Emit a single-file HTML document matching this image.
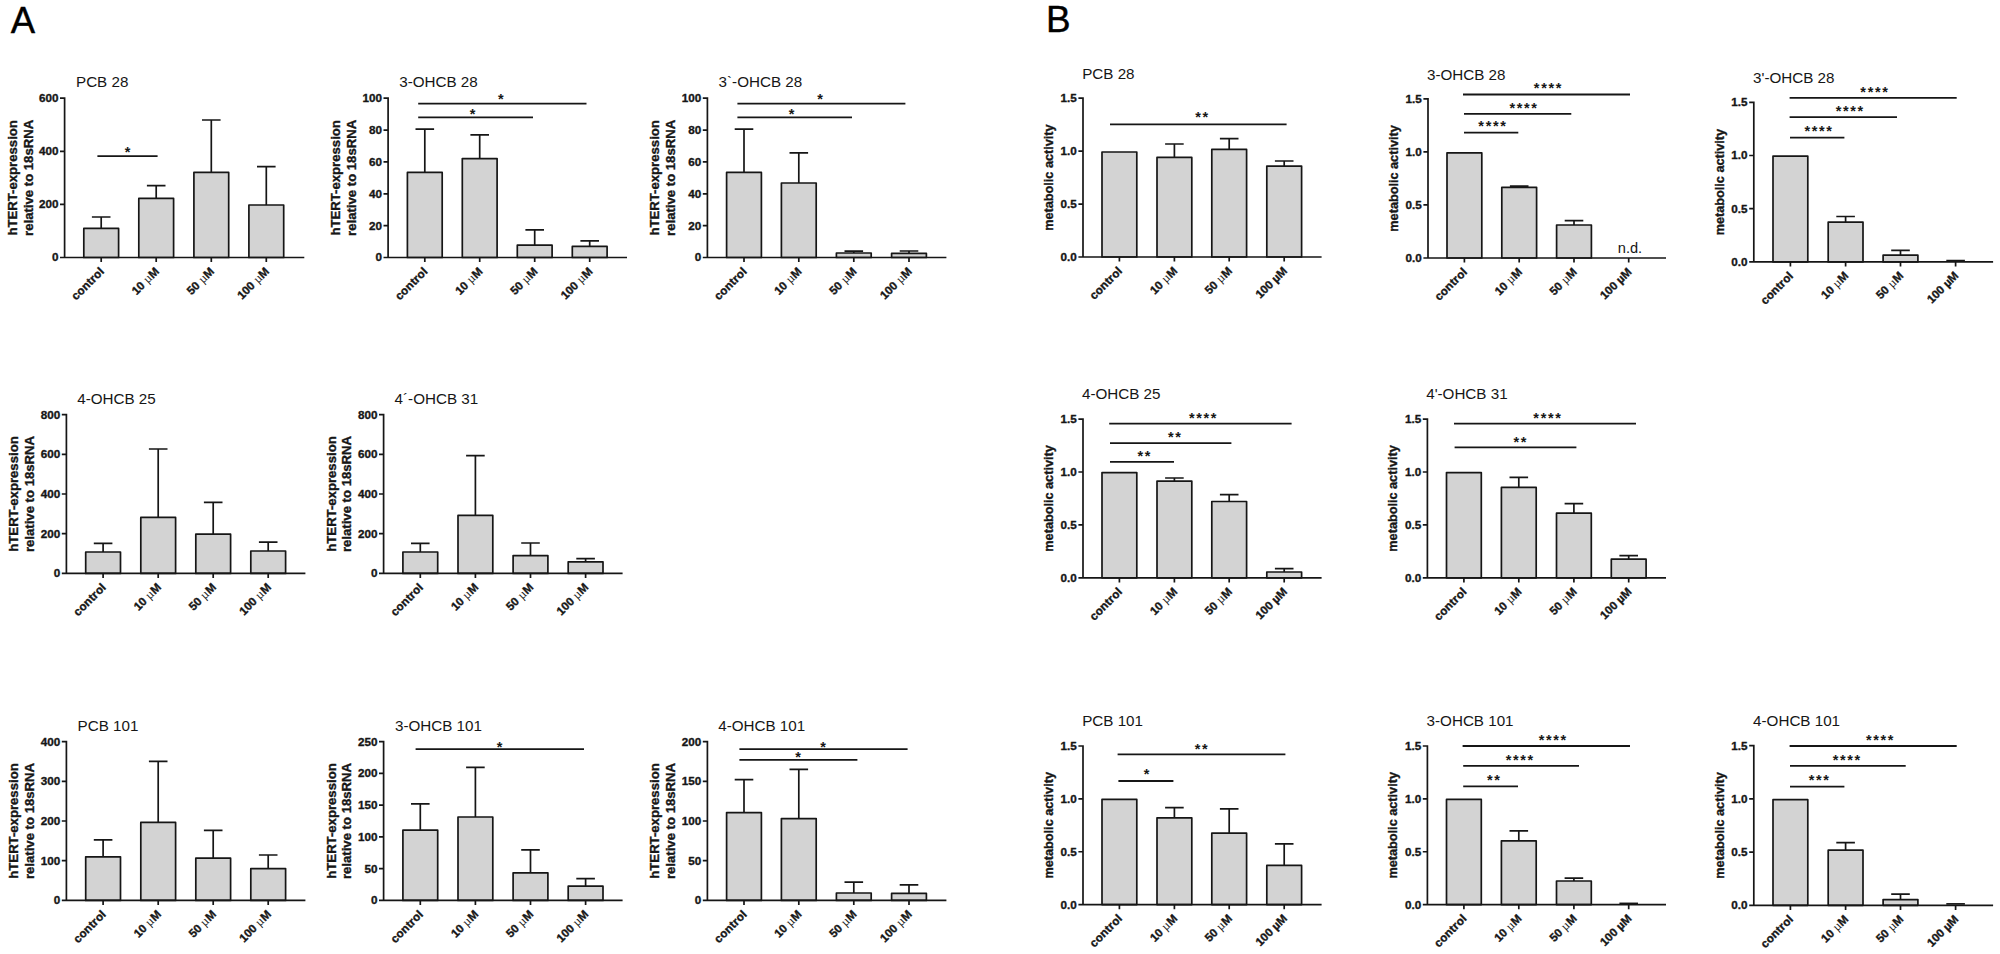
<!DOCTYPE html>
<html lang="en">
<head>
<meta charset="utf-8">
<title>hTERT expression and metabolic activity</title>
<style>
html,body{margin:0;padding:0;background:#fff}
body{width:2000px;height:954px;overflow:hidden}
svg{display:block;font-family:"Liberation Sans",Arial,sans-serif;fill:#161616}
.ln{fill:none;stroke:#161616;stroke-width:1.7}
.sg{fill:none;stroke:#161616;stroke-width:1.8}
.bar{fill:#d3d3d3;stroke:#161616;stroke-width:1.7;stroke-linejoin:round}
.tk{font-size:11.7px;font-weight:bold;text-anchor:end;stroke:#161616;stroke-width:.35px}
.xl{font-size:11.6px;font-weight:bold;text-anchor:end;stroke:#161616;stroke-width:.35px}
.mu{font-family:"Liberation Serif",serif;font-weight:normal;font-size:12.5px;stroke:none}
.yl{font-size:13.15px;font-weight:bold;text-anchor:middle;stroke:#161616;stroke-width:.35px}
.tt{font-size:15.2px}
.st{font-size:14.5px;font-weight:bold;letter-spacing:1.63px;text-anchor:middle}
.y1{font-size:12.7px}
.ct{letter-spacing:0.2px}
.nd{font-size:14.6px;text-anchor:middle}
.pl{font-size:36px;fill:#000;stroke:#000;stroke-width:.4px}
</style>
</head>
<body>
<svg width="2000" height="954" viewBox="0 0 2000 954">
<rect x="0" y="0" width="2000" height="954" fill="#fff"/>
<text x="10.8" y="32.7" class="pl" style="font-size:36.5px">A</text>
<text x="1046" y="31.6" class="pl" style="font-size:36.9px">B</text>
<g><path d="M101.2 228.4V217M91.9 217H110.5" class="ln"/>
<rect x="83.8" y="228.4" width="34.8" height="29.1" class="bar"/>
<path d="M156.2 198.4V185.6M146.9 185.6H165.5" class="ln"/>
<rect x="138.8" y="198.4" width="34.8" height="59.1" class="bar"/>
<path d="M211.3 172.4V120M202 120H220.6" class="ln"/>
<rect x="193.9" y="172.4" width="34.8" height="85.1" class="bar"/>
<path d="M266.3 205V166.6M257 166.6H275.6" class="ln"/>
<rect x="248.9" y="205" width="34.8" height="52.5" class="bar"/>
<path d="M64.6 97.35V257.5M60 257.5H304.3M60 98.2H64.6M60 151.3H64.6M60 204.4H64.6M101.2 257.5V262.1M156.2 257.5V262.1M211.3 257.5V262.1M266.3 257.5V262.1" class="ln"/>
<text x="58.4" y="102.1" class="tk">600</text>
<text x="58.4" y="155.2" class="tk">400</text>
<text x="58.4" y="208.3" class="tk">200</text>
<text x="58.4" y="261.4" class="tk">0</text>
<text transform="translate(104.8 272.1) rotate(-45)" class="xl ct">control</text>
<text transform="translate(159.8 272.1) rotate(-45)" class="xl">10 <tspan class="mu">µ</tspan>M</text>
<text transform="translate(214.9 272.1) rotate(-45)" class="xl">50 <tspan class="mu">µ</tspan>M</text>
<text transform="translate(269.9 272.1) rotate(-45)" class="xl">100 <tspan class="mu">µ</tspan>M</text>
<text x="76" y="87.4" class="tt">PCB 28</text>
<text transform="translate(17 177.85) rotate(-90)" class="yl">hTERT-expression</text>
<text transform="translate(32.9 177.85) rotate(-90)" class="yl">relative to 18sRNA</text>
<path d="M97.4 156.2H157.6" class="sg"/>
<text x="128.41" y="156.9" class="st">*</text></g>
<g><path d="M424.8 172.4V129.2M415.5 129.2H434.1" class="ln"/>
<rect x="407.4" y="172.4" width="34.8" height="85.1" class="bar"/>
<path d="M479.7 158.6V134.8M470.4 134.8H489" class="ln"/>
<rect x="462.3" y="158.6" width="34.8" height="98.9" class="bar"/>
<path d="M534.7 245.2V229.8M525.4 229.8H544" class="ln"/>
<rect x="517.3" y="245.2" width="34.8" height="12.3" class="bar"/>
<path d="M589.7 246.4V240.8M580.4 240.8H599" class="ln"/>
<rect x="572.3" y="246.4" width="34.8" height="11.1" class="bar"/>
<path d="M388.1 97.35V257.5M383.5 257.5H627M383.5 98.2H388.1M383.5 130.06H388.1M383.5 161.92H388.1M383.5 193.78H388.1M383.5 225.64H388.1M424.8 257.5V262.1M479.7 257.5V262.1M534.7 257.5V262.1M589.7 257.5V262.1" class="ln"/>
<text x="381.9" y="102.1" class="tk">100</text>
<text x="381.9" y="133.96" class="tk">80</text>
<text x="381.9" y="165.82" class="tk">60</text>
<text x="381.9" y="197.68" class="tk">40</text>
<text x="381.9" y="229.54" class="tk">20</text>
<text x="381.9" y="261.4" class="tk">0</text>
<text transform="translate(428.4 272.1) rotate(-45)" class="xl ct">control</text>
<text transform="translate(483.3 272.1) rotate(-45)" class="xl">10 <tspan class="mu">µ</tspan>M</text>
<text transform="translate(538.3 272.1) rotate(-45)" class="xl">50 <tspan class="mu">µ</tspan>M</text>
<text transform="translate(593.3 272.1) rotate(-45)" class="xl">100 <tspan class="mu">µ</tspan>M</text>
<text x="399.2" y="87.4" class="tt">3-OHCB 28</text>
<text transform="translate(340 177.85) rotate(-90)" class="yl">hTERT-expression</text>
<text transform="translate(355.9 177.85) rotate(-90)" class="yl">relative to 18sRNA</text>
<path d="M418.2 103.7H586.5" class="sg"/>
<text x="501.62" y="104.1" class="st">*</text>
<path d="M418.2 117.4H533" class="sg"/>
<text x="473.51" y="119.1" class="st">*</text></g>
<g><path d="M744 172.4V129.2M734.7 129.2H753.3" class="ln"/>
<rect x="726.6" y="172.4" width="34.8" height="85.1" class="bar"/>
<path d="M798.8 183V152.8M789.5 152.8H808.1" class="ln"/>
<rect x="781.4" y="183" width="34.8" height="74.5" class="bar"/>
<path d="M853.8 253V251.2M844.5 251.2H863.1" class="ln"/>
<rect x="836.4" y="253" width="34.8" height="4.5" class="bar"/>
<path d="M909 253.4V251M899.7 251H918.3" class="ln"/>
<rect x="891.6" y="253.4" width="34.8" height="4.1" class="bar"/>
<path d="M707.4 97.35V257.5M702.8 257.5H946.4M702.8 98.2H707.4M702.8 130.06H707.4M702.8 161.92H707.4M702.8 193.78H707.4M702.8 225.64H707.4M744 257.5V262.1M798.8 257.5V262.1M853.8 257.5V262.1M909 257.5V262.1" class="ln"/>
<text x="701.2" y="102.1" class="tk">100</text>
<text x="701.2" y="133.96" class="tk">80</text>
<text x="701.2" y="165.82" class="tk">60</text>
<text x="701.2" y="197.68" class="tk">40</text>
<text x="701.2" y="229.54" class="tk">20</text>
<text x="701.2" y="261.4" class="tk">0</text>
<text transform="translate(747.6 272.1) rotate(-45)" class="xl ct">control</text>
<text transform="translate(802.4 272.1) rotate(-45)" class="xl">10 <tspan class="mu">µ</tspan>M</text>
<text transform="translate(857.4 272.1) rotate(-45)" class="xl">50 <tspan class="mu">µ</tspan>M</text>
<text transform="translate(912.6 272.1) rotate(-45)" class="xl">100 <tspan class="mu">µ</tspan>M</text>
<text x="718.6" y="87.4" class="tt">3`-OHCB 28</text>
<text transform="translate(659.3 177.85) rotate(-90)" class="yl">hTERT-expression</text>
<text transform="translate(675.2 177.85) rotate(-90)" class="yl">relative to 18sRNA</text>
<path d="M737.4 103.7H905.4" class="sg"/>
<text x="820.82" y="104" class="st">*</text>
<path d="M737.4 117.4H852" class="sg"/>
<text x="792.42" y="119" class="st">*</text></g>
<g><path d="M103.1 552V543.4M93.8 543.4H112.4" class="ln"/>
<rect x="85.7" y="552" width="34.8" height="21.4" class="bar"/>
<path d="M158.2 517.4V449M148.9 449H167.5" class="ln"/>
<rect x="140.8" y="517.4" width="34.8" height="56" class="bar"/>
<path d="M213.2 534.2V502.4M203.9 502.4H222.5" class="ln"/>
<rect x="195.8" y="534.2" width="34.8" height="39.2" class="bar"/>
<path d="M268.2 551V542.2M258.9 542.2H277.5" class="ln"/>
<rect x="250.8" y="551" width="34.8" height="22.4" class="bar"/>
<path d="M66.4 413.75V573.4M61.8 573.4H305.4M61.8 414.6H66.4M61.8 454.3H66.4M61.8 494H66.4M61.8 533.7H66.4M103.1 573.4V578M158.2 573.4V578M213.2 573.4V578M268.2 573.4V578" class="ln"/>
<text x="60.2" y="418.5" class="tk">800</text>
<text x="60.2" y="458.2" class="tk">600</text>
<text x="60.2" y="497.9" class="tk">400</text>
<text x="60.2" y="537.6" class="tk">200</text>
<text x="60.2" y="577.3" class="tk">0</text>
<text transform="translate(106.7 588) rotate(-45)" class="xl ct">control</text>
<text transform="translate(161.8 588) rotate(-45)" class="xl">10 <tspan class="mu">µ</tspan>M</text>
<text transform="translate(216.8 588) rotate(-45)" class="xl">50 <tspan class="mu">µ</tspan>M</text>
<text transform="translate(271.8 588) rotate(-45)" class="xl">100 <tspan class="mu">µ</tspan>M</text>
<text x="77.2" y="403.8" class="tt">4-OHCB 25</text>
<text transform="translate(18.3 494) rotate(-90)" class="yl">hTERT-expression</text>
<text transform="translate(34.2 494) rotate(-90)" class="yl">relative to 18sRNA</text></g>
<g><path d="M420.3 552V543.4M411 543.4H429.6" class="ln"/>
<rect x="402.9" y="552" width="34.8" height="21.4" class="bar"/>
<path d="M475.4 515.4V455.6M466.1 455.6H484.7" class="ln"/>
<rect x="458" y="515.4" width="34.8" height="58" class="bar"/>
<path d="M530.5 555.6V543M521.2 543H539.8" class="ln"/>
<rect x="513.1" y="555.6" width="34.8" height="17.8" class="bar"/>
<path d="M585.6 561.8V558.6M576.3 558.6H594.9" class="ln"/>
<rect x="568.2" y="561.8" width="34.8" height="11.6" class="bar"/>
<path d="M383.6 413.75V573.4M379 573.4H622.6M379 414.6H383.6M379 454.3H383.6M379 494H383.6M379 533.7H383.6M420.3 573.4V578M475.4 573.4V578M530.5 573.4V578M585.6 573.4V578" class="ln"/>
<text x="377.4" y="418.5" class="tk">800</text>
<text x="377.4" y="458.2" class="tk">600</text>
<text x="377.4" y="497.9" class="tk">400</text>
<text x="377.4" y="537.6" class="tk">200</text>
<text x="377.4" y="577.3" class="tk">0</text>
<text transform="translate(423.9 588) rotate(-45)" class="xl ct">control</text>
<text transform="translate(479 588) rotate(-45)" class="xl">10 <tspan class="mu">µ</tspan>M</text>
<text transform="translate(534.1 588) rotate(-45)" class="xl">50 <tspan class="mu">µ</tspan>M</text>
<text transform="translate(589.2 588) rotate(-45)" class="xl">100 <tspan class="mu">µ</tspan>M</text>
<text x="394.6" y="403.8" class="tt">4´-OHCB 31</text>
<text transform="translate(335.5 494) rotate(-90)" class="yl">hTERT-expression</text>
<text transform="translate(351.4 494) rotate(-90)" class="yl">relative to 18sRNA</text></g>
<g><path d="M103.1 856.8V839.8M93.8 839.8H112.4" class="ln"/>
<rect x="85.7" y="856.8" width="34.8" height="43.6" class="bar"/>
<path d="M158.2 822.4V761.4M148.9 761.4H167.5" class="ln"/>
<rect x="140.8" y="822.4" width="34.8" height="78" class="bar"/>
<path d="M213.2 858.2V830.4M203.9 830.4H222.5" class="ln"/>
<rect x="195.8" y="858.2" width="34.8" height="42.2" class="bar"/>
<path d="M268.2 868.6V855M258.9 855H277.5" class="ln"/>
<rect x="250.8" y="868.6" width="34.8" height="31.8" class="bar"/>
<path d="M66.4 740.75V900.4M61.8 900.4H305.4M61.8 741.6H66.4M61.8 781.3H66.4M61.8 821H66.4M61.8 860.7H66.4M103.1 900.4V905M158.2 900.4V905M213.2 900.4V905M268.2 900.4V905" class="ln"/>
<text x="60.2" y="745.5" class="tk">400</text>
<text x="60.2" y="785.2" class="tk">300</text>
<text x="60.2" y="824.9" class="tk">200</text>
<text x="60.2" y="864.6" class="tk">100</text>
<text x="60.2" y="904.3" class="tk">0</text>
<text transform="translate(106.7 915) rotate(-45)" class="xl ct">control</text>
<text transform="translate(161.8 915) rotate(-45)" class="xl">10 <tspan class="mu">µ</tspan>M</text>
<text transform="translate(216.8 915) rotate(-45)" class="xl">50 <tspan class="mu">µ</tspan>M</text>
<text transform="translate(271.8 915) rotate(-45)" class="xl">100 <tspan class="mu">µ</tspan>M</text>
<text x="77.6" y="730.8" class="tt">PCB 101</text>
<text transform="translate(18.3 821) rotate(-90)" class="yl">hTERT-expression</text>
<text transform="translate(34.2 821) rotate(-90)" class="yl">relative to 18sRNA</text></g>
<g><path d="M420.3 830.2V803.8M411 803.8H429.6" class="ln"/>
<rect x="402.9" y="830.2" width="34.8" height="70.2" class="bar"/>
<path d="M475.4 817V767.4M466.1 767.4H484.7" class="ln"/>
<rect x="458" y="817" width="34.8" height="83.4" class="bar"/>
<path d="M530.5 872.8V849.8M521.2 849.8H539.8" class="ln"/>
<rect x="513.1" y="872.8" width="34.8" height="27.6" class="bar"/>
<path d="M585.6 886.2V878.6M576.3 878.6H594.9" class="ln"/>
<rect x="568.2" y="886.2" width="34.8" height="14.2" class="bar"/>
<path d="M383.6 740.75V900.4M379 900.4H622.6M379 741.6H383.6M379 773.36H383.6M379 805.12H383.6M379 836.88H383.6M379 868.64H383.6M420.3 900.4V905M475.4 900.4V905M530.5 900.4V905M585.6 900.4V905" class="ln"/>
<text x="377.4" y="745.5" class="tk">250</text>
<text x="377.4" y="777.26" class="tk">200</text>
<text x="377.4" y="809.02" class="tk">150</text>
<text x="377.4" y="840.78" class="tk">100</text>
<text x="377.4" y="872.54" class="tk">50</text>
<text x="377.4" y="904.3" class="tk">0</text>
<text transform="translate(423.9 915) rotate(-45)" class="xl ct">control</text>
<text transform="translate(479 915) rotate(-45)" class="xl">10 <tspan class="mu">µ</tspan>M</text>
<text transform="translate(534.1 915) rotate(-45)" class="xl">50 <tspan class="mu">µ</tspan>M</text>
<text transform="translate(589.2 915) rotate(-45)" class="xl">100 <tspan class="mu">µ</tspan>M</text>
<text x="395" y="730.8" class="tt">3-OHCB 101</text>
<text transform="translate(335.5 821) rotate(-90)" class="yl">hTERT-expression</text>
<text transform="translate(351.4 821) rotate(-90)" class="yl">relative to 18sRNA</text>
<path d="M415.6 749.2H584" class="sg"/>
<text x="500.42" y="751.9" class="st">*</text></g>
<g><path d="M744 812.6V779.6M734.7 779.6H753.3" class="ln"/>
<rect x="726.6" y="812.6" width="34.8" height="87.8" class="bar"/>
<path d="M798.8 818.6V769.4M789.5 769.4H808.1" class="ln"/>
<rect x="781.4" y="818.6" width="34.8" height="81.8" class="bar"/>
<path d="M853.8 893V882.2M844.5 882.2H863.1" class="ln"/>
<rect x="836.4" y="893" width="34.8" height="7.4" class="bar"/>
<path d="M909 893.4V884.8M899.7 884.8H918.3" class="ln"/>
<rect x="891.6" y="893.4" width="34.8" height="7" class="bar"/>
<path d="M707.4 740.75V900.4M702.8 900.4H946.4M702.8 741.6H707.4M702.8 781.3H707.4M702.8 821H707.4M702.8 860.7H707.4M744 900.4V905M798.8 900.4V905M853.8 900.4V905M909 900.4V905" class="ln"/>
<text x="701.2" y="745.5" class="tk">200</text>
<text x="701.2" y="785.2" class="tk">150</text>
<text x="701.2" y="824.9" class="tk">100</text>
<text x="701.2" y="864.6" class="tk">50</text>
<text x="701.2" y="904.3" class="tk">0</text>
<text transform="translate(747.6 915) rotate(-45)" class="xl ct">control</text>
<text transform="translate(802.4 915) rotate(-45)" class="xl">10 <tspan class="mu">µ</tspan>M</text>
<text transform="translate(857.4 915) rotate(-45)" class="xl">50 <tspan class="mu">µ</tspan>M</text>
<text transform="translate(912.6 915) rotate(-45)" class="xl">100 <tspan class="mu">µ</tspan>M</text>
<text x="718.2" y="730.8" class="tt">4-OHCB 101</text>
<text transform="translate(659.3 821) rotate(-90)" class="yl">hTERT-expression</text>
<text transform="translate(675.2 821) rotate(-90)" class="yl">relative to 18sRNA</text>
<path d="M739.4 749.2H907.6" class="sg"/>
<text x="823.82" y="751.9" class="st">*</text>
<path d="M739.4 759.8H857.4" class="sg"/>
<text x="798.82" y="762.1" class="st">*</text></g>
<g><rect x="1102" y="152" width="34.8" height="105" class="bar"/>
<path d="M1174.4 157.4V144M1165.1 144H1183.7" class="ln"/>
<rect x="1157" y="157.4" width="34.8" height="99.6" class="bar"/>
<path d="M1229.2 149.4V138.7M1219.9 138.7H1238.5" class="ln"/>
<rect x="1211.8" y="149.4" width="34.8" height="107.6" class="bar"/>
<path d="M1284.2 166.1V161M1274.9 161H1293.5" class="ln"/>
<rect x="1266.8" y="166.1" width="34.8" height="90.9" class="bar"/>
<path d="M1083 97.35V257M1078.4 257H1321.6M1078.4 98.2H1083M1078.4 151.13H1083M1078.4 204.07H1083M1119.4 257V261.6M1174.4 257V261.6M1229.2 257V261.6M1284.2 257V261.6" class="ln"/>
<text x="1076.8" y="102.1" class="tk">1.5</text>
<text x="1076.8" y="155.03" class="tk">1.0</text>
<text x="1076.8" y="207.97" class="tk">0.5</text>
<text x="1076.8" y="260.9" class="tk">0.0</text>
<text transform="translate(1123 271.6) rotate(-45)" class="xl ct">control</text>
<text transform="translate(1178 271.6) rotate(-45)" class="xl">10 <tspan class="mu">µ</tspan>M</text>
<text transform="translate(1232.8 271.6) rotate(-45)" class="xl">50 <tspan class="mu">µ</tspan>M</text>
<text transform="translate(1287.8 271.6) rotate(-45)" class="xl">100 µM</text>
<text x="1082.2" y="78.8" class="tt">PCB 28</text>
<text transform="translate(1052.8 177.6) rotate(-90)" class="yl y1">metabolic activity</text>
<path d="M1110 124.4H1286.6" class="sg"/>
<text x="1202.41" y="122.3" class="st">**</text></g>
<g><rect x="1447" y="152.8" width="34.8" height="105.2" class="bar"/>
<path d="M1519.2 187.3V186.1M1509.9 186.1H1528.5" class="ln"/>
<rect x="1501.8" y="187.3" width="34.8" height="70.7" class="bar"/>
<path d="M1574 225V220.7M1564.7 220.7H1583.3" class="ln"/>
<rect x="1556.6" y="225" width="34.8" height="33" class="bar"/>
<path d="M1428 98.05V258M1423.4 258H1666M1423.4 98.9H1428M1423.4 151.93H1428M1423.4 204.97H1428M1464.4 258V262.6M1519.2 258V262.6M1574 258V262.6M1628.7 258V262.6" class="ln"/>
<text x="1421.8" y="102.8" class="tk">1.5</text>
<text x="1421.8" y="155.83" class="tk">1.0</text>
<text x="1421.8" y="208.87" class="tk">0.5</text>
<text x="1421.8" y="261.9" class="tk">0.0</text>
<text transform="translate(1468 272.6) rotate(-45)" class="xl ct">control</text>
<text transform="translate(1522.8 272.6) rotate(-45)" class="xl">10 <tspan class="mu">µ</tspan>M</text>
<text transform="translate(1577.6 272.6) rotate(-45)" class="xl">50 <tspan class="mu">µ</tspan>M</text>
<text transform="translate(1632.3 272.6) rotate(-45)" class="xl">100 µM</text>
<text x="1427" y="79.8" class="tt">3-OHCB 28</text>
<text transform="translate(1397.8 178.45) rotate(-90)" class="yl y1">metabolic activity</text>
<path d="M1463 94.5H1630" class="sg"/>
<text x="1548.41" y="93.3" class="st">****</text>
<path d="M1464 113.8H1571.3" class="sg"/>
<text x="1524.02" y="112.5" class="st">****</text>
<path d="M1464 132.6H1518.3" class="sg"/>
<text x="1492.91" y="131.3" class="st">****</text>
<text x="1630" y="253.3" class="nd">n.d.</text></g>
<g><rect x="1773" y="156.1" width="34.8" height="105.8" class="bar"/>
<path d="M1845.6 222.1V216.5M1836.3 216.5H1854.9" class="ln"/>
<rect x="1828.2" y="222.1" width="34.8" height="39.8" class="bar"/>
<path d="M1900.5 255.2V250.4M1891.2 250.4H1909.8" class="ln"/>
<rect x="1883.1" y="255.2" width="34.8" height="6.7" class="bar"/>
<path d="M1946.3 260.6H1964.9" class="ln"/>
<path d="M1753.8 101.45V261.9M1749.2 261.9H1993.1M1749.2 102.3H1753.8M1749.2 155.5H1753.8M1749.2 208.7H1753.8M1790.4 261.9V266.5M1845.6 261.9V266.5M1900.5 261.9V266.5M1955.6 261.9V266.5" class="ln"/>
<text x="1747.6" y="106.2" class="tk">1.5</text>
<text x="1747.6" y="159.4" class="tk">1.0</text>
<text x="1747.6" y="212.6" class="tk">0.5</text>
<text x="1747.6" y="265.8" class="tk">0.0</text>
<text transform="translate(1794 276.5) rotate(-45)" class="xl ct">control</text>
<text transform="translate(1849.2 276.5) rotate(-45)" class="xl">10 <tspan class="mu">µ</tspan>M</text>
<text transform="translate(1904.1 276.5) rotate(-45)" class="xl">50 <tspan class="mu">µ</tspan>M</text>
<text transform="translate(1959.2 276.5) rotate(-45)" class="xl">100 µM</text>
<text x="1753.1" y="83" class="tt">3'-OHCB 28</text>
<text transform="translate(1723.6 182.1) rotate(-90)" class="yl y1">metabolic activity</text>
<path d="M1789.6 97.8H1956.7" class="sg"/>
<text x="1874.91" y="96.6" class="st">****</text>
<path d="M1789.6 117.2H1897" class="sg"/>
<text x="1850.22" y="115.85" class="st">****</text>
<path d="M1790 137.6H1844.4" class="sg"/>
<text x="1819.02" y="136.2" class="st">****</text></g>
<g><rect x="1102" y="472.6" width="34.8" height="105.2" class="bar"/>
<path d="M1174.4 481.1V478M1165.1 478H1183.7" class="ln"/>
<rect x="1157" y="481.1" width="34.8" height="96.7" class="bar"/>
<path d="M1229.2 501.5V494.7M1219.9 494.7H1238.5" class="ln"/>
<rect x="1211.8" y="501.5" width="34.8" height="76.3" class="bar"/>
<path d="M1284.2 572V568.6M1274.9 568.6H1293.5" class="ln"/>
<rect x="1266.8" y="572" width="34.8" height="5.8" class="bar"/>
<path d="M1083 418.25V577.8M1078.4 577.8H1321.6M1078.4 419.1H1083M1078.4 472H1083M1078.4 524.9H1083M1119.4 577.8V582.4M1174.4 577.8V582.4M1229.2 577.8V582.4M1284.2 577.8V582.4" class="ln"/>
<text x="1076.8" y="423" class="tk">1.5</text>
<text x="1076.8" y="475.9" class="tk">1.0</text>
<text x="1076.8" y="528.8" class="tk">0.5</text>
<text x="1076.8" y="581.7" class="tk">0.0</text>
<text transform="translate(1123 592.4) rotate(-45)" class="xl ct">control</text>
<text transform="translate(1178 592.4) rotate(-45)" class="xl">10 <tspan class="mu">µ</tspan>M</text>
<text transform="translate(1232.8 592.4) rotate(-45)" class="xl">50 <tspan class="mu">µ</tspan>M</text>
<text transform="translate(1287.8 592.4) rotate(-45)" class="xl">100 µM</text>
<text x="1082" y="399.2" class="tt">4-OHCB 25</text>
<text transform="translate(1052.8 498.45) rotate(-90)" class="yl y1">metabolic activity</text>
<path d="M1109.2 423.6H1291.6" class="sg"/>
<text x="1203.52" y="422.9" class="st">****</text>
<path d="M1110 443.2H1231.4" class="sg"/>
<text x="1175.32" y="442.3" class="st">**</text>
<path d="M1110 461.8H1174" class="sg"/>
<text x="1144.82" y="460.5" class="st">**</text></g>
<g><rect x="1446.5" y="472.6" width="34.8" height="105.2" class="bar"/>
<path d="M1518.8 487.4V477.4M1509.5 477.4H1528.1" class="ln"/>
<rect x="1501.4" y="487.4" width="34.8" height="90.4" class="bar"/>
<path d="M1573.9 513.2V503.6M1564.6 503.6H1583.2" class="ln"/>
<rect x="1556.5" y="513.2" width="34.8" height="64.6" class="bar"/>
<path d="M1628.7 559.2V555.6M1619.4 555.6H1638" class="ln"/>
<rect x="1611.3" y="559.2" width="34.8" height="18.6" class="bar"/>
<path d="M1427.4 418.25V577.8M1422.8 577.8H1666M1422.8 419.1H1427.4M1422.8 472H1427.4M1422.8 524.9H1427.4M1463.9 577.8V582.4M1518.8 577.8V582.4M1573.9 577.8V582.4M1628.7 577.8V582.4" class="ln"/>
<text x="1421.2" y="423" class="tk">1.5</text>
<text x="1421.2" y="475.9" class="tk">1.0</text>
<text x="1421.2" y="528.8" class="tk">0.5</text>
<text x="1421.2" y="581.7" class="tk">0.0</text>
<text transform="translate(1467.5 592.4) rotate(-45)" class="xl ct">control</text>
<text transform="translate(1522.4 592.4) rotate(-45)" class="xl">10 <tspan class="mu">µ</tspan>M</text>
<text transform="translate(1577.5 592.4) rotate(-45)" class="xl">50 <tspan class="mu">µ</tspan>M</text>
<text transform="translate(1632.3 592.4) rotate(-45)" class="xl">100 µM</text>
<text x="1426.2" y="399.2" class="tt">4'-OHCB 31</text>
<text transform="translate(1397.2 498.45) rotate(-90)" class="yl y1">metabolic activity</text>
<path d="M1454 423.6H1636" class="sg"/>
<text x="1547.91" y="422.9" class="st">****</text>
<path d="M1454.6 447.4H1576.4" class="sg"/>
<text x="1520.82" y="446.7" class="st">**</text></g>
<g><rect x="1102" y="799.4" width="34.8" height="105.2" class="bar"/>
<path d="M1174.4 817.8V807.6M1165.1 807.6H1183.7" class="ln"/>
<rect x="1157" y="817.8" width="34.8" height="86.8" class="bar"/>
<path d="M1229.2 833.2V808.8M1219.9 808.8H1238.5" class="ln"/>
<rect x="1211.8" y="833.2" width="34.8" height="71.4" class="bar"/>
<path d="M1284.2 865.4V843.8M1274.9 843.8H1293.5" class="ln"/>
<rect x="1266.8" y="865.4" width="34.8" height="39.2" class="bar"/>
<path d="M1083 745.15V904.6M1078.4 904.6H1321.6M1078.4 746H1083M1078.4 798.87H1083M1078.4 851.73H1083M1119.4 904.6V909.2M1174.4 904.6V909.2M1229.2 904.6V909.2M1284.2 904.6V909.2" class="ln"/>
<text x="1076.8" y="749.9" class="tk">1.5</text>
<text x="1076.8" y="802.77" class="tk">1.0</text>
<text x="1076.8" y="855.63" class="tk">0.5</text>
<text x="1076.8" y="908.5" class="tk">0.0</text>
<text transform="translate(1123 919.2) rotate(-45)" class="xl ct">control</text>
<text transform="translate(1178 919.2) rotate(-45)" class="xl">10 <tspan class="mu">µ</tspan>M</text>
<text transform="translate(1232.8 919.2) rotate(-45)" class="xl">50 <tspan class="mu">µ</tspan>M</text>
<text transform="translate(1287.8 919.2) rotate(-45)" class="xl">100 µM</text>
<text x="1082.2" y="726" class="tt">PCB 101</text>
<text transform="translate(1052.8 825.3) rotate(-90)" class="yl y1">metabolic activity</text>
<path d="M1117.6 754.4H1285.4" class="sg"/>
<text x="1201.91" y="753.7" class="st">**</text>
<path d="M1118.4 781H1173.4" class="sg"/>
<text x="1147.41" y="779.3" class="st">*</text></g>
<g><rect x="1446.5" y="799.4" width="34.8" height="105.2" class="bar"/>
<path d="M1518.8 840.8V830.8M1509.5 830.8H1528.1" class="ln"/>
<rect x="1501.4" y="840.8" width="34.8" height="63.8" class="bar"/>
<path d="M1573.9 881V878.2M1564.6 878.2H1583.2" class="ln"/>
<rect x="1556.5" y="881" width="34.8" height="23.6" class="bar"/>
<path d="M1619.4 903.4H1638" class="ln"/>
<path d="M1427.4 745.15V904.6M1422.8 904.6H1666M1422.8 746H1427.4M1422.8 798.87H1427.4M1422.8 851.73H1427.4M1463.9 904.6V909.2M1518.8 904.6V909.2M1573.9 904.6V909.2M1628.7 904.6V909.2" class="ln"/>
<text x="1421.2" y="749.9" class="tk">1.5</text>
<text x="1421.2" y="802.77" class="tk">1.0</text>
<text x="1421.2" y="855.63" class="tk">0.5</text>
<text x="1421.2" y="908.5" class="tk">0.0</text>
<text transform="translate(1467.5 919.2) rotate(-45)" class="xl ct">control</text>
<text transform="translate(1522.4 919.2) rotate(-45)" class="xl">10 <tspan class="mu">µ</tspan>M</text>
<text transform="translate(1577.5 919.2) rotate(-45)" class="xl">50 <tspan class="mu">µ</tspan>M</text>
<text transform="translate(1632.3 919.2) rotate(-45)" class="xl">100 µM</text>
<text x="1426.6" y="726" class="tt">3-OHCB 101</text>
<text transform="translate(1397.2 825.3) rotate(-90)" class="yl y1">metabolic activity</text>
<path d="M1462.6 746H1630" class="sg"/>
<text x="1553.32" y="744.7" class="st">****</text>
<path d="M1463.2 765.8H1579" class="sg"/>
<text x="1520.32" y="764.9" class="st">****</text>
<path d="M1463.2 786.4H1518" class="sg"/>
<text x="1494.32" y="784.9" class="st">**</text></g>
<g><rect x="1773" y="799.7" width="34.8" height="105.6" class="bar"/>
<path d="M1845.6 850.2V842.7M1836.3 842.7H1854.9" class="ln"/>
<rect x="1828.2" y="850.2" width="34.8" height="55.1" class="bar"/>
<path d="M1900.5 899.6V894.2M1891.2 894.2H1909.8" class="ln"/>
<rect x="1883.1" y="899.6" width="34.8" height="5.7" class="bar"/>
<path d="M1946.3 903.9H1964.9" class="ln"/>
<path d="M1753.8 744.75V905.3M1749.2 905.3H1993.1M1749.2 745.6H1753.8M1749.2 798.83H1753.8M1749.2 852.07H1753.8M1790.4 905.3V909.9M1845.6 905.3V909.9M1900.5 905.3V909.9M1955.6 905.3V909.9" class="ln"/>
<text x="1747.6" y="749.5" class="tk">1.5</text>
<text x="1747.6" y="802.73" class="tk">1.0</text>
<text x="1747.6" y="855.97" class="tk">0.5</text>
<text x="1747.6" y="909.2" class="tk">0.0</text>
<text transform="translate(1794 919.9) rotate(-45)" class="xl ct">control</text>
<text transform="translate(1849.2 919.9) rotate(-45)" class="xl">10 <tspan class="mu">µ</tspan>M</text>
<text transform="translate(1904.1 919.9) rotate(-45)" class="xl">50 <tspan class="mu">µ</tspan>M</text>
<text transform="translate(1959.2 919.9) rotate(-45)" class="xl">100 µM</text>
<text x="1753.1" y="726.3" class="tt">4-OHCB 101</text>
<text transform="translate(1723.6 825.45) rotate(-90)" class="yl y1">metabolic activity</text>
<path d="M1789.6 746H1956.7" class="sg"/>
<text x="1880.52" y="745" class="st">****</text>
<path d="M1790 765.9H1905.7" class="sg"/>
<text x="1847.22" y="764.7" class="st">****</text>
<path d="M1790 786.6H1844.4" class="sg"/>
<text x="1819.62" y="785.4" class="st">***</text></g>
</svg>
</body>
</html>
